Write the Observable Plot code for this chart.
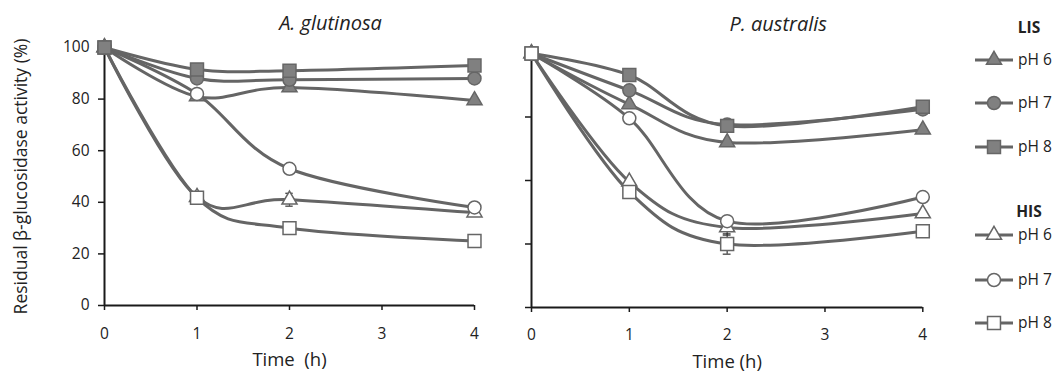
<!DOCTYPE html>
<html>
<head>
<meta charset="utf-8">
<script src="https://cdn.jsdelivr.net/npm/d3@7"></script>
<script src="https://cdn.jsdelivr.net/npm/@observablehq/plot@0.6"></script>
<style>
  html, body { margin: 0; padding: 0; background: #fff; }
  #wrap { position: relative; width: 1055px; height: 373px; overflow: hidden; font-family: "Open Sans", sans-serif; }
  #wrap > div, #wrap > svg { position: absolute; top: 0; }
</style>
</head>
<body>
<div id="wrap">
  <div id="left" style="left:0px"></div>
  <div id="right" style="left:440px"></div>
  <svg id="legend" width="115" height="373" style="left:940px"></svg>
</div>
<script>
// ---- data ----
const times = [0, 1, 2, 4];
const xTicks = [0, 1, 2, 3, 4];
const yTicksLeft = [0, 20, 40, 60, 80, 100];
const yTicksRight = [0, 25, 50, 75, 100];
const panelTitles = ["A. glutinosa", "P. australis"];
const xLabels = ["Time\u00a0 (h)", "Time (h)"];
const yLabel = "Residual β-glucosidase activity (%)";
const groups = ["LIS", "HIS"];
const phLabels = ["pH 6", "pH 7", "pH 8"];

// A. glutinosa
const agLIS6 = [100, 81, 84.5, 79.5];
const agLIS7 = [100, 88, 87.5, 88];
const agLIS8 = [100, 91.5, 91, 93];
const agHIS6 = [100, 42, 41, 36];
const agHIS7 = [100, 82, 53, 38];
const agHIS8 = [100, 41.8, 30, 25];
const agHIS6err = [0, 2, 2.5, 0];

// P. australis
const paLIS6 = [100, 80, 65, 70];
const paLIS7 = [100, 85.5, 72, 78];
const paLIS8 = [100, 91.5, 71.5, 79];
const paHIS6 = [100, 49.5, 31.5, 37];
const paHIS7 = [100, 74.5, 34, 43.5];
const paHIS8 = [100, 45.5, 25, 30];
const paHIS6err = [0, 0, 3, 0];
const paHIS8err = [0, 0, 4, 0];

// ---- styles ----
const LINE = "#656565";
const GRAYFILL = "#808080";
const MSTROKE = "#666666";
const TEXT = "#222";
const AXIS = "#1a1a1a";
const symbolOf = {"pH 6": "triangle", "pH 7": "circle", "pH 8": "square"};
const rOf = {"pH 6": 5.6, "pH 7": 6.5, "pH 8": 7.3};

function series(name, group, ph, vals, err) {
  return {name, group, ph, rows: times.map((t, i) => ({t, v: vals[i], e: err ? err[i] : 0}))};
}

const leftSeries = [
  series("LIS6", "LIS", "pH 6", agLIS6),
  series("HIS6", "HIS", "pH 6", agHIS6, agHIS6err),
  series("HIS8", "HIS", "pH 8", agHIS8),
  series("HIS7", "HIS", "pH 7", agHIS7),
  series("LIS7", "LIS", "pH 7", agLIS7),
  series("LIS8", "LIS", "pH 8", agLIS8)
];
const rightSeries = [
  series("LIS6", "LIS", "pH 6", paLIS6),
  series("LIS7", "LIS", "pH 7", paLIS7),
  series("LIS8", "LIS", "pH 8", paLIS8),
  series("HIS6", "HIS", "pH 6", paHIS6, paHIS6err),
  series("HIS7", "HIS", "pH 7", paHIS7),
  series("HIS8", "HIS", "pH 8", paHIS8, paHIS8err)
];

function panel(cfg) {
  const marks = [];
  marks.push(Plot.ruleY([0], {stroke: AXIS, strokeWidth: 2}));
  marks.push(Plot.ruleX([0], {stroke: AXIS, strokeWidth: 2}));
  marks.push(Plot.axisY({ticks: cfg.yTicks, tickSize: 6, tickPadding: 9, label: null,
    stroke: AXIS, strokeWidth: 1.5, fontSize: 15.5, fill: TEXT, tickFormat: cfg.showY ? d => String(d) : () => ""}));
  marks.push(Plot.axisX({ticks: xTicks, tickSize: 5, tickPadding: cfg.xPad, label: null,
    stroke: AXIS, strokeWidth: 1.5, fontSize: 15.5, fill: TEXT, tickFormat: d => String(d)}));
  for (const s of cfg.series) {
    const er = s.rows.filter(d => d.e > 0);
    if (!er.length) continue;
    marks.push(Plot.ruleX(er, {x: "t", y1: d => d.v - d.e, y2: d => d.v + d.e, stroke: "#333", strokeWidth: 1.2}));
    marks.push(Plot.ruleY(er, {y: d => d.v - d.e, x1: d => d.t - 0.04, x2: d => d.t + 0.04, stroke: "#333", strokeWidth: 1.2}));
    marks.push(Plot.ruleY(er, {y: d => d.v + d.e, x1: d => d.t - 0.04, x2: d => d.t + 0.04, stroke: "#333", strokeWidth: 1.2}));
  }
  for (const s of cfg.series) {
    marks.push(Plot.line(s.rows, {x: "t", y: "v", curve: "cardinal", tension: 0, stroke: LINE, strokeWidth: 3}));
  }
  for (const s of cfg.series) {
    marks.push(Plot.dot(s.rows, {x: "t", y: "v", symbol: symbolOf[s.ph], r: rOf[s.ph],
      fill: s.group === "LIS" ? GRAYFILL : "#fff", stroke: MSTROKE, strokeWidth: 1.5}));
  }
  marks.push(Plot.text([cfg.title], {text: d => d, frameAnchor: "top", dx: cfg.titleDx, dy: cfg.titleDy,
    lineAnchor: "middle", fontStyle: "italic", fontSize: 20, fill: TEXT}));
  marks.push(Plot.text([cfg.xLabel], {text: d => d, frameAnchor: "bottom", dy: 55, lineAnchor: "middle",
    fontSize: 18.5, fill: TEXT}));
  if (cfg.showY) {
    marks.push(Plot.text([yLabel], {text: d => d, frameAnchor: "left", rotate: -90, dx: -83,
      textAnchor: "middle", lineAnchor: "middle", fontSize: 17.5, fill: TEXT}));
  }
  return Plot.plot({
    width: cfg.width, height: 373,
    marginLeft: cfg.ml, marginRight: cfg.mr, marginTop: cfg.mt, marginBottom: cfg.mb,
    x: {domain: [0, 4]},
    y: {domain: [0, 100]},
    style: {fontFamily: "Open Sans", color: TEXT, background: "transparent", overflow: "visible"},
    marks
  });
}

document.getElementById("left").appendChild(panel({
  width: 500, ml: 104, mr: 26, mt: 47, mb: 68, yTicks: yTicksLeft, showY: true, xPad: 17,
  series: leftSeries, title: panelTitles[0], titleDx: 41, titleDy: -24, xLabel: xLabels[0]
}));
document.getElementById("right").appendChild(panel({
  width: 500, ml: 91, mr: 17.7, mt: 53, mb: 66, yTicks: yTicksRight, showY: false, xPad: 16,
  series: rightSeries, title: panelTitles[1], titleDx: 51, titleDy: -29, xLabel: xLabels[1]
}));

// ---- legend ----
const lg = d3.select("#legend");
const groupY = {LIS: 27.5, HIS: 212};
const entryY = {LIS: [60, 103, 147], HIS: [235, 280, 323]};
const symType = {"pH 6": d3.symbolTriangle, "pH 7": d3.symbolCircle, "pH 8": d3.symbolSquare};
for (const g of groups) {
  lg.append("text").attr("x", 89).attr("y", groupY[g]).attr("text-anchor", "middle")
    .attr("dy", "0.35em").attr("font-family", "Open Sans").attr("font-weight", "bold")
    .attr("font-size", 15.5).attr("fill", TEXT).text(g);
  phLabels.forEach((ph, i) => {
    const y = entryY[g][i];
    lg.append("line").attr("x1", 35).attr("x2", 73).attr("y1", y).attr("y2", y)
      .attr("stroke", LINE).attr("stroke-width", 3);
    const r = rOf[ph];
    lg.append("path").attr("transform", `translate(54,${y})`)
      .attr("d", d3.symbol(symType[ph], Math.PI * r * r)())
      .attr("fill", g === "LIS" ? GRAYFILL : "#fff").attr("stroke", MSTROKE).attr("stroke-width", 1.5);
    lg.append("text").attr("x", 78).attr("y", y).attr("dy", "0.35em")
      .attr("font-family", "Open Sans").attr("font-size", 15.5).attr("fill", TEXT).text(ph);
  });
}
</script>
</body>
</html>
